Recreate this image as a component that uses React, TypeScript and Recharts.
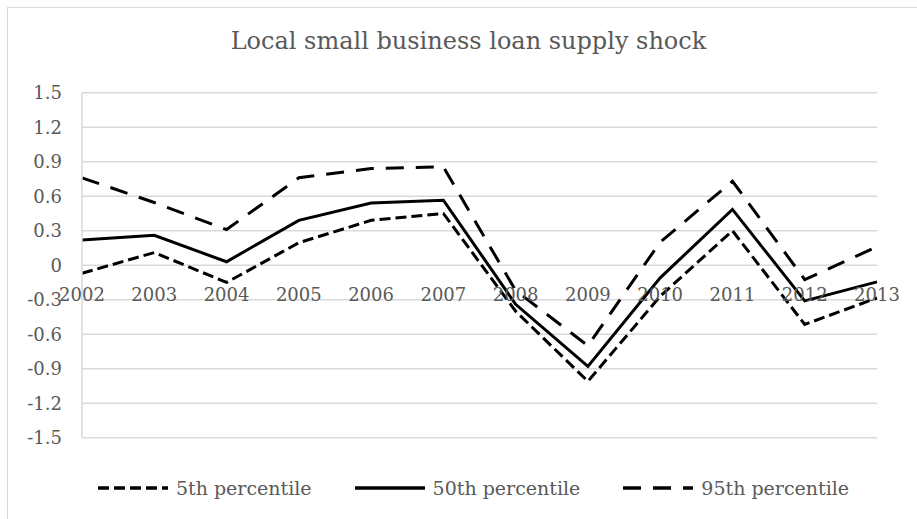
import { LineChart, Line, XAxis, YAxis, CartesianGrid } from "recharts";

const years = ["2002", "2003", "2004", "2005", "2006", "2007", "2008", "2009", "2010", "2011", "2012", "2013"];
const p5 = [-0.07, 0.11, -0.15, 0.195, 0.39, 0.45, -0.4, -1.01, -0.27, 0.3, -0.515, -0.285];
const p50 = [0.22, 0.26, 0.03, 0.39, 0.54, 0.565, -0.34, -0.88, -0.11, 0.485, -0.31, -0.145];
const p95 = [0.76, 0.545, 0.31, 0.76, 0.84, 0.855, -0.22, -0.7, 0.2, 0.73, -0.125, 0.16];
const yTicks = [-1.5, -1.2, -0.9, -0.6, -0.3, 0, 0.3, 0.6, 0.9, 1.2, 1.5];
const seriesNames = ["5th percentile", "50th percentile", "95th percentile"];

const data = years.map((year, i) => ({ year, p5: p5[i], p50: p50[i], p95: p95[i] }));

const FONT = "'DejaVu Serif', serif";
const GREY = "#595959";
const GRID = "#d9d9d9";
const W = 917;
const H = 519;
const TOP = 92.7;
const BOTTOM = 81.3;
const PLOT_H = H - TOP - BOTTOM;
const Y_MIN = -1.5;
const Y_MAX = 1.5;
const ZERO_Y = TOP + (PLOT_H * Y_MAX) / (Y_MAX - Y_MIN);

const series = [
  { key: "p5", name: seriesNames[0], dash: "11 5" },
  { key: "p50", name: seriesNames[1], dash: undefined },
  { key: "p95", name: seriesNames[2], dash: "18 12" },
];

const renderYearTick = (props: any) => (
  <text key={props.index} x={props.x} y={ZERO_Y + 36} textAnchor="middle" fill={GREY} fontSize={18} fontFamily={FONT}>
    {props.payload.value}
  </text>
);

export default function App() {
  return (
    <div style={{ position: "absolute", left: 0, top: 0, width: W, height: H, overflow: "hidden", background: "#fff" }}>
      <div style={{ position: "absolute", left: 7, top: 7, width: 930, height: 540, border: `1px solid ${GRID}`, boxSizing: "border-box" }} />
      <div style={{ position: "absolute", left: 7, top: 27, width: 923, textAlign: "center", fontFamily: FONT, fontSize: 24, color: GREY }}>
        Local small business loan supply shock
      </div>
      <div style={{ position: "absolute", left: 0, top: 0 }}>
        <LineChart width={W} height={H} data={data} margin={{ top: TOP, right: 40, bottom: BOTTOM - 1, left: 0 }}>
          <CartesianGrid vertical={false} stroke={GRID} strokeWidth={1.5} />
          <XAxis dataKey="year" height={1} axisLine={false} tickLine={false} tickSize={0} tick={renderYearTick} interval={0} />
          <YAxis
            width={82}
            domain={[Y_MIN, Y_MAX]}
            ticks={yTicks}
            tickFormatter={(v: number) => (v === 0 ? "0" : v.toFixed(1))}
            tickLine={false}
            tickSize={0}
            tickMargin={20}
            axisLine={{ stroke: GRID, strokeWidth: 1.5 }}
            tick={{ fill: GREY, fontSize: 18, fontFamily: FONT }}
          />
          {series.map((s) => (
            <Line
              key={s.key}
              dataKey={s.key}
              name={s.name}
              type="linear"
              stroke="#000"
              strokeWidth={3}
              strokeDasharray={s.dash}
              dot={false}
              isAnimationActive={false}
            />
          ))}
        </LineChart>
      </div>
      <div style={{ position: "absolute", left: 12, top: 476, width: 923, display: "flex", justifyContent: "center", fontFamily: FONT, fontSize: 19, color: GREY }}>
        {series.map((s, i) => (
          <div key={s.key} style={{ display: "flex", alignItems: "center", marginRight: i < series.length - 1 ? 43 : 0 }}>
            <svg width={70} height={24} style={{ marginRight: 8 }}>
              <line x1={0} y1={12} x2={70} y2={12} stroke="#000" strokeWidth={3.5} strokeDasharray={s.dash} />
            </svg>
            <span>{s.name}</span>
          </div>
        ))}
      </div>
    </div>
  );
}
